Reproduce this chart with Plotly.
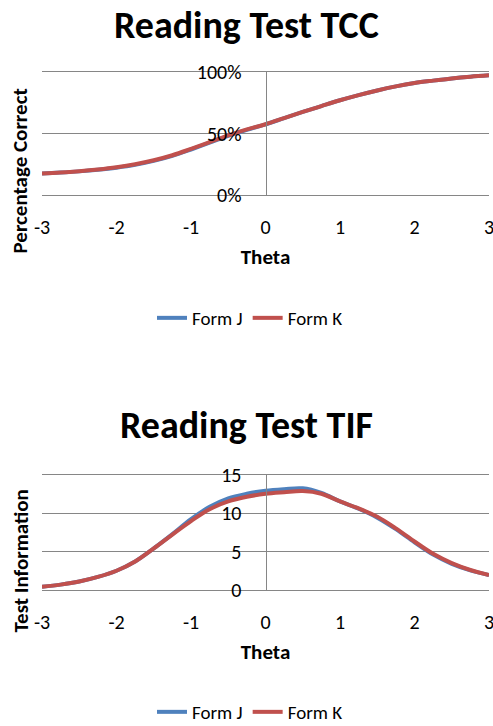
import plotly.graph_objects as go

theta = [-3, -2.75, -2.5, -2.25, -2, -1.75, -1.5, -1.25, -1, -0.75, -0.5, -0.25,
         0, 0.25, 0.5, 0.75, 1, 1.25, 1.5, 1.75, 2, 2.25, 2.5, 2.75, 3]

tcc_j = [0.174, 0.182, 0.192, 0.205, 0.222, 0.245, 0.277, 0.318, 0.370, 0.425, 0.481, 0.530,
         0.574, 0.625, 0.675, 0.723, 0.770, 0.812, 0.850, 0.883, 0.910, 0.930, 0.948, 0.962, 0.973]
tcc_k = [0.175, 0.183, 0.194, 0.208, 0.226, 0.250, 0.282, 0.323, 0.375, 0.430, 0.485, 0.533,
         0.575, 0.625, 0.675, 0.723, 0.770, 0.812, 0.850, 0.883, 0.910, 0.930, 0.948, 0.962, 0.973]

tif_j = [0.43, 0.7, 1.1, 1.7, 2.5, 3.7, 5.4, 7.25, 9.2, 10.8, 11.9, 12.5,
         12.9, 13.1, 13.2, 12.6, 11.5, 10.55, 9.4, 7.9, 6.2, 4.6, 3.4, 2.55, 1.95]
tif_k = [0.43, 0.7, 1.1, 1.7, 2.5, 3.7, 5.4, 7.2, 8.95, 10.5, 11.5, 12.1,
         12.5, 12.7, 12.85, 12.5, 11.5, 10.6, 9.5, 8.0, 6.3, 4.7, 3.5, 2.6, 1.95]

x_ticks = [-3, -2, -1, 0, 1, 2, 3]
x_tick_labels = ["-3", "-2", "-1", "0", "1", "2", "3"]
tcc_ticks = [0, 0.5, 1]
tcc_tick_labels = ["0%", "50%", "100%"]
tif_ticks = [0, 5, 10, 15]
tif_tick_labels = ["0", "5", "10", "15"]

BLUE = "#4F81BD"
RED = "#C0504D"
GRID = "#868686"
FONT = "Calibri, Carlito, Lato, sans-serif"

W, H = 493, 726
def px_x(p): return p / W
def px_y(p): return 1 - p / H

xdom = [px_x(42), px_x(489)]
fig = go.Figure()

fig.add_trace(go.Scatter(x=theta, y=tcc_j, name="Form J", mode="lines",
                         line=dict(color=BLUE, width=4, shape="spline"),
                         xaxis="x", yaxis="y", legend="legend"))
fig.add_trace(go.Scatter(x=theta, y=tcc_k, name="Form K", mode="lines",
                         line=dict(color=RED, width=4, shape="spline"),
                         xaxis="x", yaxis="y", legend="legend"))
fig.add_trace(go.Scatter(x=theta, y=tif_j, name="Form J", mode="lines",
                         line=dict(color=BLUE, width=4, shape="spline"),
                         xaxis="x2", yaxis="y2", legend="legend2"))
fig.add_trace(go.Scatter(x=theta, y=tif_k, name="Form K", mode="lines",
                         line=dict(color=RED, width=4, shape="spline"),
                         xaxis="x2", yaxis="y2", legend="legend2"))

tickfont = dict(family=FONT, size=20, color="#000000")
axtitlefont = dict(family=FONT, size=21, color="#000000")

def xaxis(anchor):
    return dict(domain=xdom, range=[-3, 3], anchor=anchor, tickvals=x_ticks,
                ticktext=x_tick_labels, automargin=False, ticklabeloverflow="allow",
                showgrid=False, zeroline=False, showline=True, mirror=True,
                linecolor=GRID, linewidth=1, ticks="",
                ticklabelstandoff=14, tickfont=tickfont, fixedrange=True,
                title=dict(text="<b>Theta</b>", font=axtitlefont, standoff=11))

yaxis_common = dict(anchor="free", position=(px_x(42) + px_x(489)) / 2, automargin=False,
                    showgrid=True, gridcolor=GRID, gridwidth=1, zeroline=False,
                    showline=True, linecolor=GRID, linewidth=1, ticks="",
                    ticklabelstandoff=20, tickfont=tickfont, fixedrange=True)

def note(text, x, y, size, angle=0):
    return dict(text=text, x=px_x(x), y=px_y(y), xref="paper", yref="paper",
                xanchor="center", yanchor="middle", showarrow=False,
                textangle=angle, font=dict(family=FONT, size=size, color="#000000"))

fig.update_layout(
    width=W, height=H,
    margin=dict(l=0, r=0, t=0, b=0, autoexpand=False),
    paper_bgcolor="white", plot_bgcolor="white",
    font=dict(family=FONT, color="#000000"),
    xaxis=xaxis("y"),
    yaxis=dict(domain=[px_y(195), px_y(72)], range=[0, 1], tickvals=tcc_ticks,
               ticktext=tcc_tick_labels, **yaxis_common),
    xaxis2=xaxis("y2"),
    yaxis2=dict(domain=[px_y(590), px_y(474.5)], range=[0, 15], tickvals=tif_ticks,
                ticktext=tif_tick_labels, **yaxis_common),
    legend=dict(orientation="h", x=px_x(250), xanchor="center", y=px_y(318), yanchor="middle",
                font=dict(family=FONT, size=19), bgcolor="rgba(0,0,0,0)"),
    legend2=dict(orientation="h", x=px_x(250), xanchor="center", y=px_y(712), yanchor="middle",
                 font=dict(family=FONT, size=19), bgcolor="rgba(0,0,0,0)"),
    showlegend=True,
    annotations=[
        note("<b>Reading Test TCC</b>", 246, 25, 38),
        note("<b>Reading Test TIF</b>", 246, 425, 38),
        note("<b>Percentage Correct</b>", 20, 171.5, 21, -90),
        note("<b>Test Information</b>", 20, 561.5, 21, -90),
    ],
)

# remove the browser's default 8px body margin so the figure fills the window exactly
fig.write_html("out.html", config={"displayModeBar": False},
               post_script="document.body.style.margin='0px';")
